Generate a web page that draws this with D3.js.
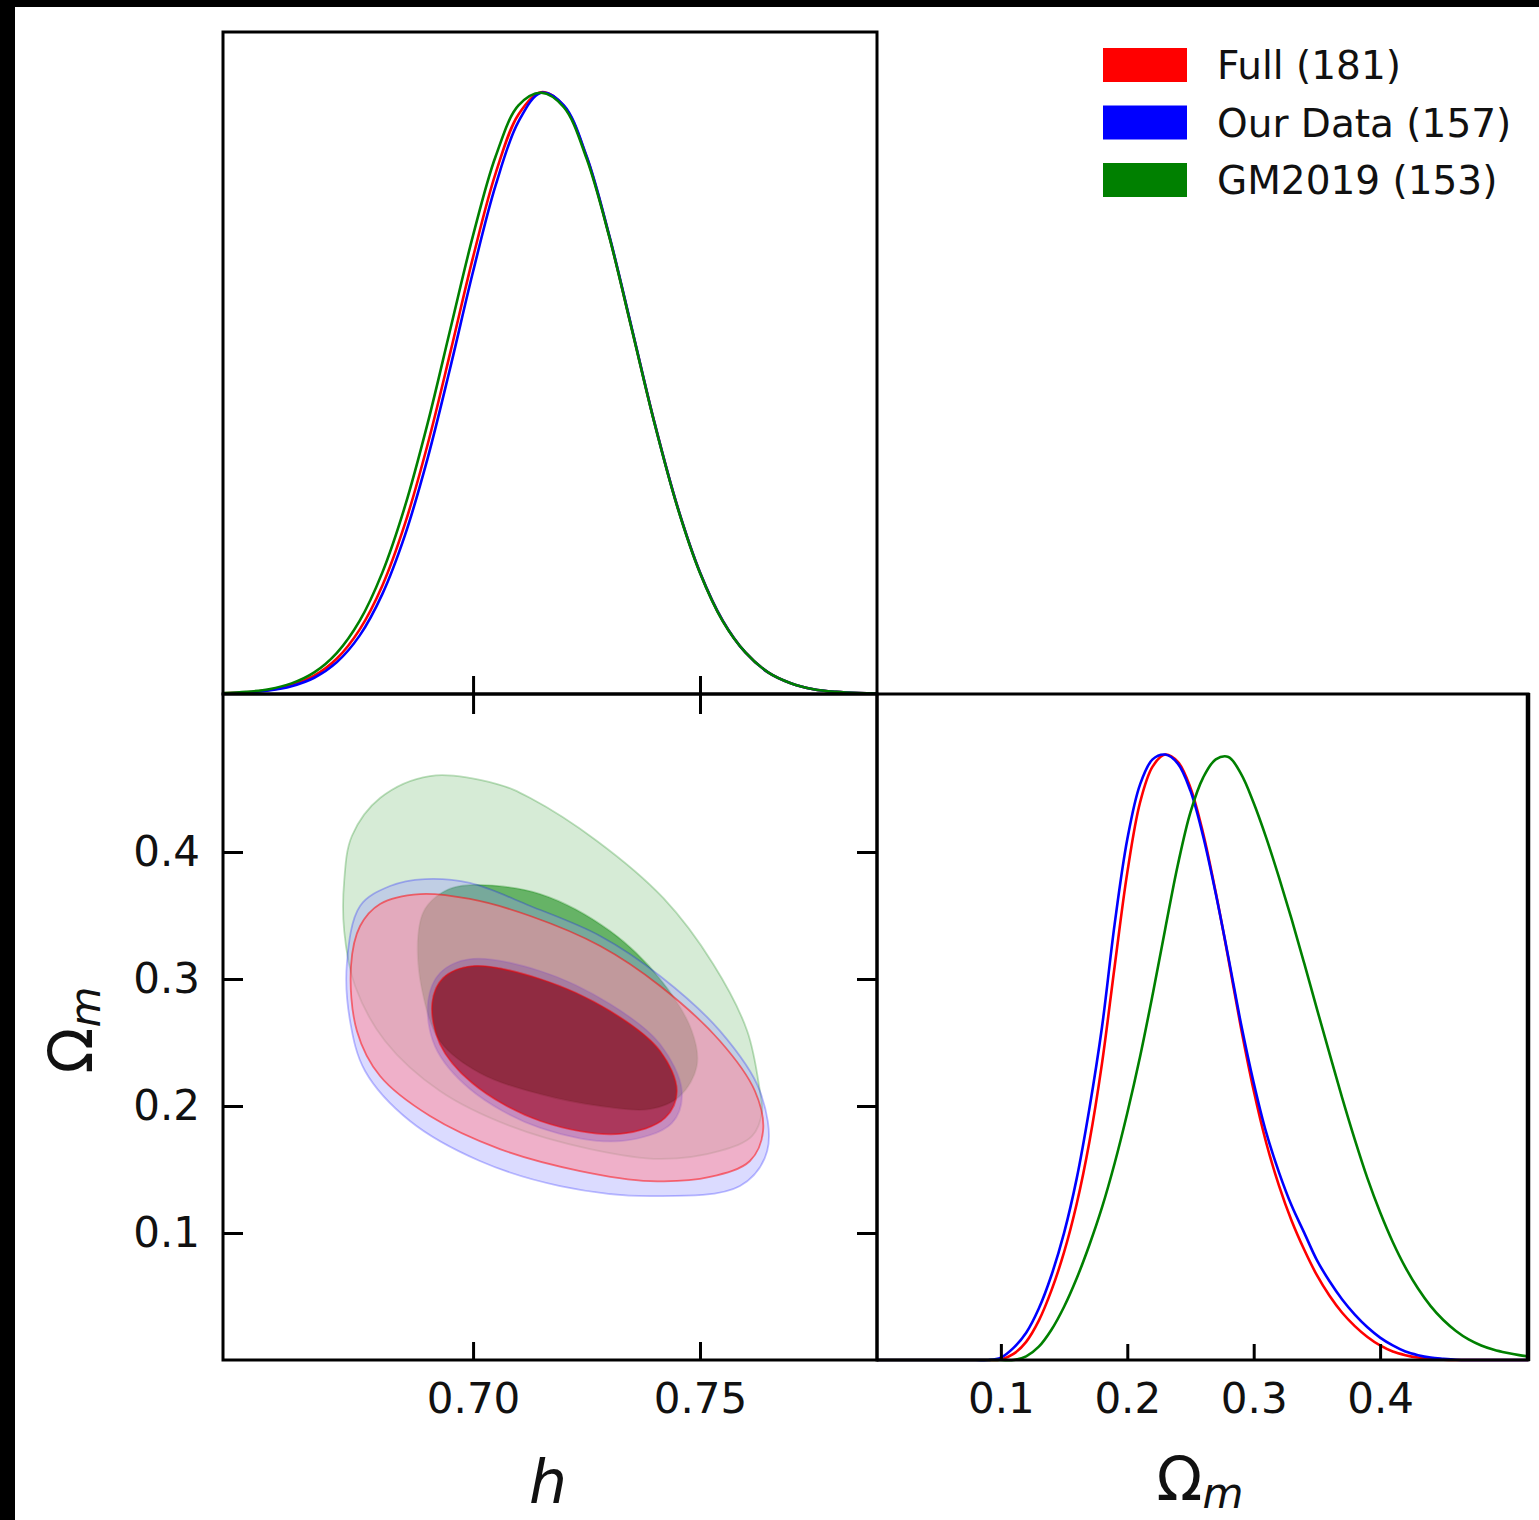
<!DOCTYPE html>
<html>
<head>
<meta charset="utf-8">
<script src="https://cdn.jsdelivr.net/npm/d3@7"></script>
<style>
  html, body { margin: 0; padding: 0; background: #000; }
  svg { display: block; }
  text { font-family: "DejaVu Sans", sans-serif; fill: #111; }
</style>
</head>
<body>
<script>
// series
const seriesNames = ["Full (181)", "Our Data (157)", "GM2019 (153)"];
const seriesColors = ["#ff0000", "#0000ff", "#008000"];
// fills for the 2D panel: [outer band, inner region], with their opacities
const outerFills = ["#ff8c9c", "#9999ff", "#99cc99"];
const innerFills = ["#c80000", "#0000ff", "#008000"];
const outerAlpha = [0.55, 0.35, 0.4];
const innerAlpha = [0.6, 0.4, 0.6];

// 1D marginal of h (normalised to peak = 1)
const hGrid = [0.645, 0.650, 0.655, 0.660, 0.665, 0.670, 0.675, 0.680, 0.685, 0.690,
               0.695, 0.700, 0.705, 0.710, 0.715, 0.720, 0.725, 0.730, 0.735, 0.740,
               0.745, 0.750, 0.755, 0.760, 0.765, 0.770, 0.775, 0.780, 0.785, 0.789];
const hFull = [0.0011, 0.0028, 0.0066, 0.0147, 0.0304, 0.059, 0.107, 0.180, 0.283, 0.415,
               0.568, 0.726, 0.866, 0.963, 1.0, 0.977, 0.893, 0.761, 0.606, 0.450,
               0.312, 0.202, 0.122, 0.069, 0.036, 0.018, 0.008, 0.0035, 0.0014, 0.0008];
const hOurData = [0.0010, 0.0024, 0.0058, 0.013, 0.027, 0.053, 0.097, 0.166, 0.264, 0.392,
                  0.543, 0.702, 0.846, 0.951, 0.999, 0.978, 0.894, 0.762, 0.607, 0.450,
                  0.312, 0.202, 0.122, 0.069, 0.036, 0.018, 0.008, 0.0035, 0.0014, 0.0008];
const hGM2019 = [0.0014, 0.0035, 0.008, 0.0177, 0.036, 0.0685, 0.1215, 0.2017, 0.312, 0.450,
                 0.6065, 0.762, 0.894, 0.978, 0.999, 0.975, 0.890, 0.760, 0.605, 0.449,
                 0.311, 0.201, 0.121, 0.069, 0.036, 0.018, 0.008, 0.0035, 0.0014, 0.0008];

// 1D marginal of Omega_m
const omGrid = [0.002, 0.05, 0.08, 0.09, 0.10, 0.11, 0.12, 0.13, 0.14, 0.15, 0.16, 0.17,
                0.18, 0.19, 0.20, 0.21, 0.22, 0.23, 0.24, 0.25, 0.26, 0.27, 0.28, 0.29,
                0.30, 0.31, 0.32, 0.33, 0.34, 0.35, 0.36, 0.37, 0.38, 0.39, 0.40, 0.41,
                0.42, 0.43, 0.44, 0.45, 0.46, 0.47, 0.48, 0.49, 0.50, 0.51, 0.517];
const omFull = [0, 0, 0, 0, 0.001, 0.010, 0.030, 0.065, 0.115, 0.178, 0.258, 0.360,
                0.490, 0.650, 0.805, 0.920, 0.980, 1.0, 0.988, 0.945, 0.870, 0.772, 0.662, 0.548,
                0.445, 0.358, 0.288, 0.230, 0.182, 0.140, 0.106, 0.078, 0.056, 0.038, 0.024, 0.014,
                0.008, 0.004, 0.002, 0.0005, 0, 0, 0, 0, 0, 0, 0];
const omOurData = [0, 0, 0, 0, 0.004, 0.020, 0.045, 0.085, 0.140, 0.210, 0.300, 0.415,
                   0.550, 0.720, 0.860, 0.950, 0.992, 1.0, 0.985, 0.940, 0.865, 0.770, 0.665, 0.555,
                   0.458, 0.375, 0.310, 0.255, 0.210, 0.165, 0.130, 0.100, 0.075, 0.054, 0.037, 0.024,
                   0.014, 0.008, 0.004, 0.002, 0.0005, 0, 0, 0, 0, 0, 0];
const omGM2019 = [0, 0, 0, 0, 0, 0, 0.006, 0.022, 0.050, 0.088, 0.135, 0.190,
                  0.252, 0.325, 0.408, 0.500, 0.603, 0.712, 0.818, 0.905, 0.962, 0.992, 0.996, 0.968,
                  0.920, 0.862, 0.797, 0.728, 0.655, 0.580, 0.506, 0.433, 0.364, 0.300, 0.244, 0.195,
                  0.153, 0.118, 0.089, 0.066, 0.048, 0.034, 0.024, 0.017, 0.012, 0.008, 0.006];

// 2D contours [h, Omega_m], outer = 95%, inner = 68%
const fullOuter = [[0.6731, 0.3102], [0.6751, 0.3417], [0.6795, 0.3591], [0.6883, 0.3669], [0.6993, 0.3630],
                   [0.7126, 0.3496], [0.7280, 0.3260], [0.7412, 0.2945], [0.7544, 0.2512], [0.7621, 0.2118],
                   [0.7639, 0.1803], [0.7610, 0.1567], [0.7522, 0.1441], [0.7390, 0.1409], [0.7236, 0.1488],
                   [0.7059, 0.1661], [0.6905, 0.1921], [0.6795, 0.2236], [0.6744, 0.2591]];
const fullInner = [[0.6910, 0.2811], [0.6934, 0.3008], [0.6998, 0.3102], [0.7148, 0.3000], [0.7302, 0.2748],
                   [0.7412, 0.2433], [0.7449, 0.2118], [0.7423, 0.1906], [0.7324, 0.1780], [0.7148, 0.1882],
                   [0.6998, 0.2181], [0.6927, 0.2488]];
const ourOuter = [[0.6722, 0.3126], [0.6751, 0.3575], [0.6817, 0.3732], [0.6894, 0.3787], [0.6993, 0.3756],
                  [0.7126, 0.3575], [0.7280, 0.3339], [0.7412, 0.3024], [0.7544, 0.2591], [0.7632, 0.2118],
                  [0.7648, 0.1646], [0.7588, 0.1370], [0.7390, 0.1291], [0.7192, 0.1370], [0.7015, 0.1567],
                  [0.6861, 0.1882], [0.6762, 0.2276], [0.6729, 0.2669]];
const ourInner = [[0.6901, 0.2827], [0.6927, 0.3047], [0.6993, 0.3157], [0.7148, 0.3063], [0.7302, 0.2803],
                  [0.7412, 0.2488], [0.7460, 0.2118], [0.7438, 0.1866], [0.7324, 0.1724], [0.7148, 0.1827],
                  [0.6993, 0.2134], [0.6916, 0.2472]];
const gmOuter = [[0.6905, 0.4598], [0.7053, 0.4535], [0.7126, 0.4425], [0.7273, 0.4087], [0.7419, 0.3638],
                 [0.7529, 0.3118], [0.7604, 0.2591], [0.7632, 0.2118], [0.7637, 0.1961], [0.7615, 0.1764],
                 [0.7544, 0.1646], [0.7412, 0.1583], [0.7258, 0.1661], [0.7081, 0.1843], [0.6927, 0.2118],
                 [0.6806, 0.2512], [0.6740, 0.2945], [0.6716, 0.3378], [0.6716, 0.3772], [0.6733, 0.4126],
                 [0.6795, 0.4425]];
const gmInner = [[0.6879, 0.3339], [0.6894, 0.3551], [0.6938, 0.3693], [0.6993, 0.3740], [0.7148, 0.3669],
                 [0.7302, 0.3378], [0.7412, 0.3000], [0.7482, 0.2591], [0.7493, 0.2315], [0.7456, 0.2079],
                 [0.7390, 0.1976], [0.7280, 0.2000], [0.7148, 0.2094], [0.7015, 0.2260], [0.6927, 0.2512],
                 [0.6888, 0.2906]];

const hTicks = [0.70, 0.75];
const omTicks = [0.1, 0.2, 0.3, 0.4];

const W = 1539, H = 1520;

const svg = d3.select("body")
  .append("svg")
  .attr("width", W)
  .attr("height", H);

svg.append("rect")
  .attr("x", 15).attr("y", 7)
  .attr("width", W - 15).attr("height", H - 7)
  .attr("fill", "#fff");

// scales
const hX = d3.scaleLinear().domain([0.6449, 0.789]).range([223, 877]);
const omX = d3.scaleLinear().domain([0.002, 0.517]).range([877, 1528]);
const omY = d3.scaleLinear().domain([0, 0.5244]).range([1360, 694]);
const topY = d3.scaleLinear().domain([0, 1.1]).range([694, 32]);
const brY = d3.scaleLinear().domain([0, 1.1]).range([1360, 694]);

// clip for the 2D panel
svg.append("clipPath").attr("id", "clip2d")
  .append("rect").attr("x", 223).attr("y", 694).attr("width", 654).attr("height", 666);

// 2D contours: last series at the bottom, first on top
const contourLine = d3.line()
  .x(d => hX(d[0]))
  .y(d => omY(d[1]))
  .curve(d3.curveCatmullRomClosed.alpha(0.5));

const contourSets = [
  { outer: gmOuter, inner: gmInner, i: 2 },
  { outer: ourOuter, inner: ourInner, i: 1 },
  { outer: fullOuter, inner: fullInner, i: 0 }
];

const g2d = svg.append("g").attr("clip-path", "url(#clip2d)");
contourSets.forEach(s => {
  const g = g2d.append("g");
  g.append("path")
    .attr("d", contourLine(s.outer) + contourLine(s.inner))
    .attr("fill-rule", "evenodd")
    .attr("fill", outerFills[s.i])
    .attr("fill-opacity", outerAlpha[s.i]);
  g.append("path")
    .attr("d", contourLine(s.inner))
    .attr("fill", innerFills[s.i])
    .attr("fill-opacity", innerAlpha[s.i]);
  [s.outer, s.inner].forEach(c => {
    g.append("path")
      .attr("d", contourLine(c))
      .attr("fill", "none")
      .attr("stroke", seriesColors[s.i])
      .attr("stroke-opacity", s.i === 0 ? 0.5 : 0.25)
      .attr("stroke-width", 1.8);
  });
});

// 1D curves
const hLine = d3.line()
  .x((d, i) => hX(hGrid[i]))
  .y(d => topY(d))
  .curve(d3.curveCatmullRom.alpha(0.5));
const omLine = d3.line()
  .x((d, i) => omX(omGrid[i]))
  .y(d => brY(d))
  .curve(d3.curveCatmullRom.alpha(0.5));

[hFull, hOurData, hGM2019].forEach((vals, i) => {
  svg.append("path")
    .attr("d", hLine(vals))
    .attr("fill", "none")
    .attr("stroke", seriesColors[i])
    .attr("stroke-width", 2.6);
});
[omFull, omOurData, omGM2019].forEach((vals, i) => {
  svg.append("path")
    .attr("d", omLine(vals))
    .attr("fill", "none")
    .attr("stroke", seriesColors[i])
    .attr("stroke-width", 2.6);
});

// axes
function styleAxis(g) {
  g.select(".domain").remove();
  g.selectAll(".tick line").attr("stroke", "#000").attr("stroke-width", 3);
  g.selectAll(".tick text")
    .attr("fill", "#111")
    .style("font-family", "'DejaVu Sans', sans-serif")
    .style("font-size", "42px");
}

svg.append("g")
  .attr("transform", "translate(0,694)")
  .call(d3.axisBottom(hX).tickValues(hTicks).tickSize(-18).tickFormat(""))
  .call(styleAxis);

svg.append("g")
  .attr("transform", "translate(0,694)")
  .call(d3.axisTop(hX).tickValues(hTicks).tickSize(-20).tickFormat(""))
  .call(styleAxis);

svg.append("g")
  .attr("transform", "translate(0,1360)")
  .call(d3.axisBottom(hX).tickValues(hTicks).tickSize(-18).tickPadding(23).tickFormat(d3.format(".2f")))
  .call(styleAxis);

svg.append("g")
  .attr("transform", "translate(223,0)")
  .call(d3.axisLeft(omY).tickValues(omTicks).tickSize(-20).tickPadding(23).tickFormat(d3.format(".1f")))
  .call(styleAxis);

svg.append("g")
  .attr("transform", "translate(877,0)")
  .call(d3.axisRight(omY).tickValues(omTicks).tickSize(-20).tickFormat(""))
  .call(styleAxis);

svg.append("g")
  .attr("transform", "translate(0,1360)")
  .call(d3.axisBottom(omX).tickValues(omTicks).tickSize(-16).tickPadding(23).tickFormat(d3.format(".1f")))
  .call(styleAxis);

// panel frames
const frames = [[223, 32, 654, 662], [223, 694, 654, 666], [877, 694, 651, 666]];
frames.forEach(f => {
  svg.append("rect")
    .attr("x", f[0]).attr("y", f[1])
    .attr("width", f[2]).attr("height", f[3])
    .attr("fill", "none")
    .attr("stroke", "#000")
    .attr("stroke-width", 3);
});
// right edge of the lower-right panel is drawn heavier in the original
svg.append("line")
  .attr("x1", 1528).attr("x2", 1528)
  .attr("y1", 693).attr("y2", 1361)
  .attr("stroke", "#000")
  .attr("stroke-width", 4.5);

// axis labels
svg.append("text")
  .attr("x", 548).attr("y", 1503)
  .attr("text-anchor", "middle")
  .style("font-size", "60px")
  .style("font-style", "italic")
  .text("h");

function omegaLabel(sel) {
  sel.append("tspan").text("Ω");
  sel.append("tspan")
    .attr("dy", 8)
    .style("font-size", "42px")
    .style("font-style", "italic")
    .text("m");
}

svg.append("text")
  .attr("x", 1200).attr("y", 1500)
  .attr("text-anchor", "middle")
  .style("font-size", "60px")
  .call(omegaLabel);

svg.append("text")
  .attr("transform", "translate(92,1030) rotate(-90)")
  .attr("text-anchor", "middle")
  .style("font-size", "60px")
  .call(omegaLabel);

// legend
const legend = svg.append("g").attr("transform", "translate(1103,48)");
const item = legend.selectAll("g")
  .data(seriesNames)
  .enter()
  .append("g")
  .attr("transform", (d, i) => `translate(0,${i * 57.5})`);
item.append("rect")
  .attr("width", 84)
  .attr("height", 34)
  .attr("fill", (d, i) => seriesColors[i]);
item.append("text")
  .attr("x", 114)
  .attr("y", 31)
  .style("font-size", "39px")
  .text(d => d);
</script>
</body>
</html>
